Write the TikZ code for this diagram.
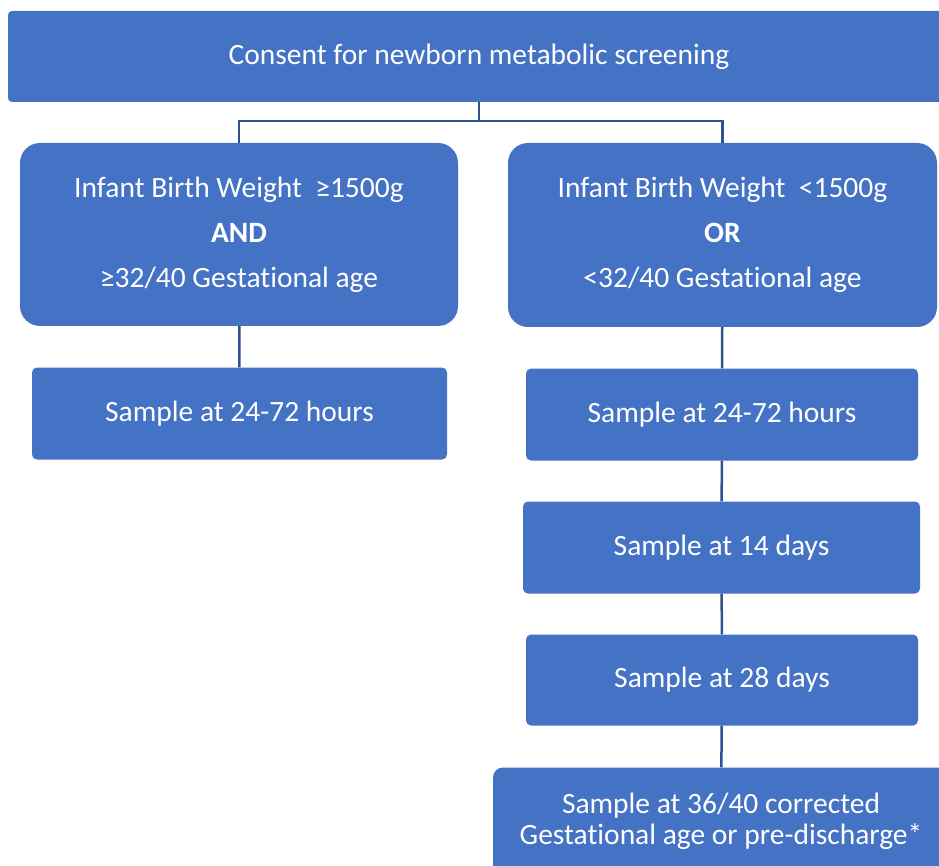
\documentclass[tikz,border=0pt]{standalone}
\usepackage{fontspec}
\setmainfont{Carlito}[Ligatures=NoCommon]
\definecolor{boxblue}{HTML}{4472C4}
\definecolor{linkblue}{HTML}{2F528F}
\begin{document}
\begin{tikzpicture}[x=1pt, y=-1pt,
    box/.style={fill=boxblue, text=white, align=center, inner sep=0pt,
        font=\fontsize{29.5}{31}\selectfont},
    link/.style={draw=linkblue, line width=2.5pt}]
    \clip (0,0) rectangle (939,866);
    % top box
    \node[box, rounded corners=4, minimum width=942, minimum height=91] (consent) at (479,56.5)
        {Consent for newborn metabolic screening};
    % the two criteria
    \node[box, rounded corners=20, minimum width=438, minimum height=183] (lowrisk) at (239,234.5)
        {Infant Birth Weight\ \ ≥1500g\\[14pt]\textbf{AND}\\[14pt]≥32/40 Gestational age};
    \node[box, rounded corners=20, minimum width=429, minimum height=184] (highrisk) at (722.5,235)
        {Infant Birth Weight\ \ <1500g\\[14pt]\textbf{OR}\\[14pt]<32/40 Gestational age};
    % samples
    \node[box, rounded corners=5, minimum width=415, minimum height=92] (lowsample) at (239.5,413.5) {Sample at 24-72 hours};
    \node[box, rounded corners=5, minimum width=392, minimum height=92] (sample1) at (722,414.5) {Sample at 24-72 hours};
    \node[box, rounded corners=5, minimum width=397, minimum height=92] (sample2) at (721.5,547.5) {Sample at 14 days};
    \node[box, rounded corners=5, minimum width=392, minimum height=91] (sample3) at (722,680) {Sample at 28 days};
    \node[box, rounded corners=10, minimum width=456, minimum height=107] (sample4) at (721,821)
        {Sample at 36/40 corrected\\Gestational age or pre-discharge*};
    % links
    \draw[link] (consent.south) -- ++(0,19) coordinate (split);
    \draw[link] (split) -| (lowrisk.north);
    \draw[link] (split) -| (highrisk.north);
    \draw[link] (lowrisk) -- (lowsample);
    \draw[link] (highrisk) -- (sample1);
    \foreach \a/\b in {sample1/sample2, sample2/sample3, sample3/sample4}
        \draw[link] (\a) -- (\b);
\end{tikzpicture}
\end{document}
